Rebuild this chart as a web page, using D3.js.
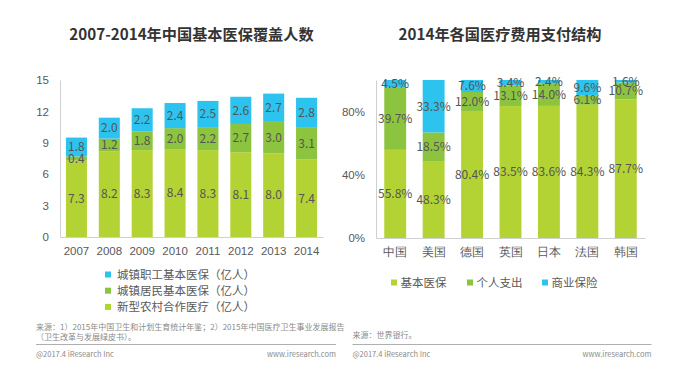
<!DOCTYPE html>
<html>
<head>
<meta charset="utf-8">
<script src="https://cdn.jsdelivr.net/npm/d3@7"></script>
<style>
  body { margin: 0; background: #fff; }
  svg { font-family: "Noto Sans CJK SC", "Noto Sans", sans-serif; }
  .axis path, .axis line { stroke: #d0d0d0; }
  .axis text { fill: #595959; font-size: 11.5px; }
  .bar-label { fill: #555; font-size: 12px; text-anchor: middle; }
  .title { fill: #333; font-size: 15.2px; font-weight: bold; text-anchor: middle; }
  .legend text { fill: #595959; font-size: 11.5px; }
  .note { fill: #8a8a8a; font-size: 8px; }
  .foot { fill: #8a8a8a; font-size: 7.5px; }
</style>
</head>
<body>
<svg id="chart" width="683" height="375"></svg>
<script>
// left chart: 2007-2014 coverage (亿人)
const years = ["2007", "2008", "2009", "2010", "2011", "2012", "2013", "2014"];
const ruralCoop = [7.3, 8.2, 8.3, 8.4, 8.3, 8.1, 8.0, 7.4];
const urbanResident = [0.4, 1.2, 1.8, 2.0, 2.2, 2.7, 3.0, 3.1];
const urbanWorker = [1.8, 2.0, 2.2, 2.4, 2.5, 2.6, 2.7, 2.8];
const leftTicks = [0, 3, 6, 9, 12, 15];
const leftSeries = ["新型农村合作医疗（亿人）", "城镇居民基本医保（亿人）", "城镇职工基本医保（亿人）"];

// right chart: 2014 payment structure (%)
const countries = ["中国", "美国", "德国", "英国", "日本", "法国", "韩国"];
const basicIns = [55.8, 48.3, 80.4, 83.5, 83.6, 84.3, 87.7];
const personal = [39.7, 18.5, 12.0, 13.1, 14.0, 6.1, 10.7];
const commercial = [4.5, 33.3, 7.6, 3.4, 2.4, 9.6, 1.6];
const rightTicks = [0, 40, 80];
const rightSeries = ["基本医保", "个人支出", "商业保险"];

const colors = ["#b3d334", "#8dc43f", "#2cc3ee"];

const svg = d3.select("#chart");

function stackedChart(cfg) {
  const g = svg.append("g");
  const x = d3.scaleBand().domain(cfg.cats).range([cfg.x0, cfg.x1])
    .paddingInner(cfg.pad).paddingOuter(cfg.pad / 2);
  const y = d3.scaleLinear().domain(cfg.domain).range([cfg.y0, cfg.y1]);

  const rows = cfg.cats.map((c, i) => {
    const r = { cat: c };
    cfg.keys.forEach((k, j) => r[k] = cfg.values[j][i]);
    return r;
  });
  const stacked = d3.stack().keys(cfg.keys)(rows);
  const top = v => y(Math.min(v, cfg.domain[1]));

  g.append("g").attr("class", "axis")
    .attr("transform", `translate(0,${cfg.y0})`)
    .call(d3.axisBottom(x).tickSize(0).tickSizeOuter(0).tickPadding(10));
  g.append("g").attr("class", "axis")
    .attr("transform", `translate(${cfg.x0},0)`)
    .call(d3.axisLeft(y).tickValues(cfg.ticks).tickFormat(cfg.fmt).tickSize(0).tickSizeOuter(0).tickPadding(cfg.tickPad));

  stacked.forEach((layer, j) => {
    g.append("g").selectAll("rect").data(layer).enter().append("rect")
      .attr("x", d => x(d.data.cat))
      .attr("width", x.bandwidth())
      .attr("y", d => top(d[1]))
      .attr("height", d => y(d[0]) - top(d[1]))
      .attr("fill", colors[j]);
  });
  stacked.forEach((layer, j) => {
    g.append("g").selectAll("text").data(layer).enter().append("text")
      .attr("class", "bar-label")
      .attr("x", d => x(d.data.cat) + x.bandwidth() / 2)
      .attr("y", d => (y(d[0]) + top(d[1])) / 2)
      .attr("dy", "0.36em")
      .text(d => cfg.labelFmt(d.data[cfg.keys[j]]));
  });
  return g;
}

stackedChart({
  cats: years, keys: leftSeries, values: [ruralCoop, urbanResident, urbanWorker],
  x0: 60, x1: 323, y0: 237, y1: 80, domain: [0, 15], ticks: leftTicks,
  pad: 0.36, tickPad: 11, fmt: d3.format("d"), labelFmt: d3.format(".1f")
});

stackedChart({
  cats: countries, keys: rightSeries, values: [basicIns, personal, commercial],
  x0: 376, x1: 645, y0: 238, y1: 80, domain: [0, 100], ticks: rightTicks,
  pad: 0.43, tickPad: 11, fmt: d => d + "%", labelFmt: d => d3.format(".1f")(d) + "%"
});

// titles
svg.append("text").attr("class", "title").attr("x", 191.5).attr("y", 40).text("2007-2014年中国基本医保覆盖人数");
svg.append("text").attr("class", "title").attr("x", 500).attr("y", 40).text("2014年各国医疗费用支付结构");

// left legend (reversed order, vertical)
const legL = svg.append("g").attr("class", "legend");
[2, 1, 0].forEach((j, i) => {
  const yy = 274.5 + i * 16.2;
  legL.append("rect").attr("x", 105).attr("y", yy - 3).attr("width", 6).attr("height", 6).attr("fill", colors[j]);
  legL.append("text").attr("x", 117).attr("y", yy).attr("dy", "0.36em").text(leftSeries[j]);
});

// right legend (horizontal)
const legR = svg.append("g").attr("class", "legend");
const legRx = [391, 467, 542];
rightSeries.forEach((s, j) => {
  legR.append("rect").attr("x", legRx[j]).attr("y", 279.5).attr("width", 6).attr("height", 6).attr("fill", colors[j]);
  legR.append("text").attr("x", legRx[j] + 9.5).attr("y", 282.7).attr("dy", "0.36em").text(s);
});

// sources and footers
svg.append("text").attr("class", "note").attr("x", 36).attr("y", 329.5)
  .text("来源：1）2015年中国卫生和计划生育统计年鉴；2）2015年中国医疗卫生事业发展报告");
svg.append("text").attr("class", "note").attr("x", 36).attr("y", 339.5)
  .text("（卫生改革与发展绿皮书）。");
svg.append("text").attr("class", "note").attr("x", 352.5).attr("y", 338).text("来源：世界银行。");

[[36, 336], [352.5, 651.5]].forEach(([a, b]) => {
  svg.append("line").attr("x1", a).attr("x2", b).attr("y1", 344.5).attr("y2", 344.5)
    .attr("stroke", "#9a9a9a").attr("stroke-width", 0.8);
  svg.append("text").attr("class", "foot").attr("x", a).attr("y", 357).text("@2017.4 iResearch Inc");
  svg.append("text").attr("class", "foot").attr("x", b).attr("y", 357).attr("text-anchor", "end").text("www.iresearch.com");
});
</script>
</body>
</html>
